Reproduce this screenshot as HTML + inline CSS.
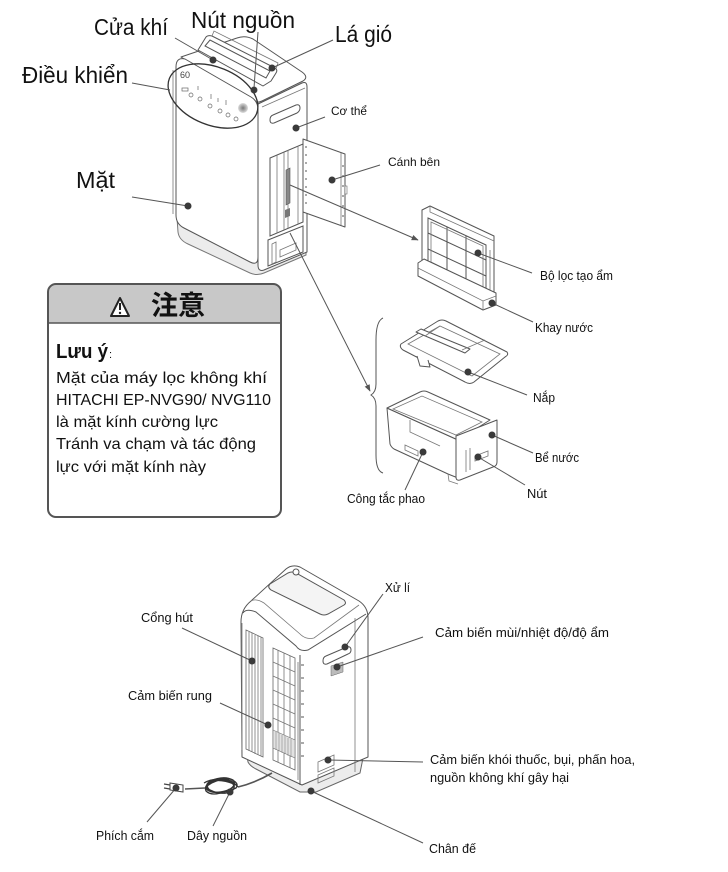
<!DOCTYPE html>
<html><head><meta charset="utf-8">
<style>
html,body{margin:0;padding:0;background:#fff;}
svg{display:block;}
text{font-family:"Liberation Sans","Noto Sans CJK SC",sans-serif;fill:#111;}
.ln{stroke:#555;stroke-width:1;fill:none;}
.lt{stroke:#777;stroke-width:0.8;fill:none;}
.u{stroke:#555;stroke-width:1;fill:#fff;stroke-linejoin:round;}
.ld{stroke:#555;stroke-width:1;fill:none;}
.d{fill:#3a3a3a;}
</style></head>
<body>
<svg width="728" height="872" viewBox="0 0 728 872" xmlns="http://www.w3.org/2000/svg">
<defs>
<marker id="ar" viewBox="0 0 10 10" refX="9" refY="5" markerWidth="7" markerHeight="7" orient="auto"><path d="M0,1 L10,5 L0,9 Z" fill="#555"/></marker>
<radialGradient id="rg"><stop offset="0" stop-color="#777"/><stop offset="1" stop-color="#ddd"/></radialGradient>
</defs>

<!-- ============ TOP UNIT ============ -->
<path d="M177,218 L178,232 Q179,240 188,244 L250,273 Q257,276 264,273 L306,255 L306,240" fill="#ececec" stroke="#777"/>
<path d="M258,104 L302,83 Q307,81 307,87 L307,252 L264,270 Q258,272 258,265 Z" class="u"/>
<path d="M181,57 L237,38 Q245,35 253,39 L302,72 Q309,77 303,81 L262,101 Q256,104 250,100 Z" class="u"/>
<path d="M176,67 Q176,57 185,59 L251,97 Q258,101 258,110 L258,257 Q258,266 250,262 L184,228 Q176,224 176,215 Z" class="u"/>
<path d="M262,107 L305,88" class="lt"/>
<path d="M173,70 L173,214" class="lt"/>
<!-- handle -->
<path d="M198,50 L206,37 Q208,35 212,36 L275,68 Q278,70 276,73 L271,81 L263,86 Z" class="u"/>
<path d="M205,46 L210,40 L270,71 L266,78 Z" class="ln"/>
<path d="M212,36 L214,31 L278,63 L276,69" class="lt"/>
<circle cx="254" cy="90" r="3" fill="#fff" stroke="#555"/>
<!-- control ellipse -->
<ellipse cx="213" cy="96" rx="47" ry="29" transform="rotate(22 213 96)" fill="none" stroke="#333" stroke-width="1.3"/>
<text x="180" y="78" font-size="9" style="fill:#444">60</text>
<g fill="none" stroke="#666" stroke-width="0.7">
<rect x="182" y="88" width="6" height="3"/><circle cx="191" cy="95" r="2"/><circle cx="200" cy="99" r="2"/>
<circle cx="210" cy="106" r="2"/><circle cx="220" cy="111" r="2"/><circle cx="228" cy="115" r="2"/><circle cx="236" cy="119" r="2"/>
<path d="M198,86 v4 M211,94 v5 M218,98 v4 M226,100 v5"/>
</g>
<circle cx="243" cy="108" r="5" fill="url(#rg)"/>
<!-- right side details -->
<path d="M273,115 L296,105 Q300,104 300,108 Q300,111 297,113 L274,123 Q270,124 270,120 Q270,116 273,115 Z" class="ln"/>
<path d="M270,158 L303,144 L303,222 L270,236 Z" fill="#fff" stroke="#555"/>
<path d="M277,155 L277,233 M284,152 L284,230 M288,150 L288,228 M298,146 L298,224" class="lt"/>
<path d="M286,170 L286,205 L290,203 L290,168 Z" fill="#888" stroke="#555" stroke-width="0.6"/>
<path d="M285,210 L290,208 L290,216 L285,218 Z" fill="#777"/>
<path d="M268,240 L303,226 L303,252 L268,266 Z" class="ln"/>
<path d="M272,244 L276,242 L276,262 L272,264 Z M280,250 L296,243 L296,250 L280,257 Z" class="lt"/>
<!-- door -->
<path d="M303,139 L345,154 L345,227 L303,212 Z" class="u"/>
<path d="M341,153 L341,225" class="lt"/>
<path d="M306,146 v2 M306,154 v2 M306,162 v2 M306,170 v2 M306,178 v2 M306,186 v2 M306,194 v2 M306,202 v2 M343,165 v2 M343,175 v2 M343,185 v2 M343,195 v2 M343,205 v2 M343,215 v2" stroke="#555" stroke-width="1"/>
<rect x="345" y="186" width="2" height="8" fill="#fff" stroke="#666" stroke-width="0.6"/>

<!-- leader lines top -->
<path class="ld" d="M175,38 L213,60"/><circle class="d" cx="213" cy="60" r="3.5"/>
<path class="ld" d="M258,32 L254,88"/><circle class="d" cx="254" cy="90" r="3"/>
<path class="ld" d="M333,40 L272,68"/><circle class="d" cx="272" cy="68" r="3.5"/>
<path class="ld" d="M132,83 L170,90"/>
<path class="ld" d="M132,197 L188,206"/><circle class="d" cx="188" cy="206" r="3.5"/>
<path class="ld" d="M325,117 L296,128"/><circle class="d" cx="296" cy="128" r="3.5"/>
<path class="ld" d="M380,165 L332,180"/><circle class="d" cx="332" cy="180" r="3.5"/>
<path class="ld" d="M290,185 L418,240" marker-end="url(#ar)"/>
<path class="ld" d="M290,233 L370,391" marker-end="url(#ar)"/>

<!-- labels top -->
<text x="94" y="35" font-size="23" textLength="74" lengthAdjust="spacingAndGlyphs">Cửa khí</text>
<text x="191" y="28" font-size="23" textLength="104" lengthAdjust="spacingAndGlyphs">Nút nguồn</text>
<text x="335" y="42" font-size="23" textLength="57" lengthAdjust="spacingAndGlyphs">Lá gió</text>
<text x="22" y="83" font-size="23" textLength="106" lengthAdjust="spacingAndGlyphs">Điều khiển</text>
<text x="76" y="188" font-size="23" textLength="39" lengthAdjust="spacingAndGlyphs">Mặt</text>
<text x="331" y="115" font-size="12" textLength="36" lengthAdjust="spacingAndGlyphs">Cơ thể</text>
<text x="388" y="166" font-size="12" textLength="52" lengthAdjust="spacingAndGlyphs">Cánh bên</text>

<!-- ============ FILTER ============ -->
<path d="M422,210 L430,206 L494,236 L494,296 L488,299 L422,270 Z" class="u"/>
<path d="M430,206 L430,212 L494,241" class="lt"/>
<path d="M428,218 L486,245 L486,291 L428,264 Z" fill="#fff" stroke="#555"/>
<path d="M447,227 L447,273 M466,236 L466,282 M428,233 L486,260 M428,249 L486,276" class="ln"/>
<path d="M431,222 L483,246 L483,288 L431,262 Z" class="lt"/>
<path d="M490,250 L490,290" class="lt"/>
<path d="M418,263 L424,259 L496,293 L496,305 L483,310 L418,276 Z" class="u"/>
<path d="M418,268 L483,301 L496,296 M483,301 L483,310" class="lt"/>

<!-- ============ LID ============ -->
<path d="M401,344 L438,321 Q442,319 446,321 L507,352 Q509,355 505,357 L474,382 Q470,385 465,382 L403,350 Q399,347 401,344 Z" class="u"/>
<path d="M408,344 L440,326 L500,354 L472,376 Z" class="lt"/>
<path d="M416,332 L421,329 L470,349 L465,353 Z" class="u"/>
<path d="M425,336 L440,326 M462,350 L485,340" class="lt"/>
<path d="M417,356 L420,366 L430,367 L428,360" class="u"/>

<!-- brace -->
<path d="M383,318 Q376,321 376,340 L376,384 Q376,392 371,395 Q376,398 376,406 L376,455 Q376,471 383,473" class="ln"/>

<!-- ============ TANK ============ -->
<path d="M387,408 L390,444 Q391,447 394,449 L448,474 L458,478 L458,440 Z" class="u"/>
<path d="M387,408 L420,392 Q424,390 428,392 L490,420 L458,440 Z" class="u"/>
<path d="M393,409 L422,396 L482,422 L456,435 Z" class="lt"/>
<path d="M410,420 L410,432 L440,446" class="lt"/>
<path d="M456,436 L497,420 L497,462 Q497,466 493,467 L460,480 Q456,481 456,477 Z" class="u"/>
<path d="M466,450 L466,472 M470,448 L470,470" class="lt"/>
<path d="M475,456 L488,451 L488,456 L475,461 Z" class="lt"/>
<path d="M405,445 L418,451 L418,456 L405,450 Z" class="lt"/>
<path d="M448,474 L449,481 L458,484" class="lt"/>

<!-- leader lines filter/tank -->
<path class="ld" d="M478,253 L532,273"/><circle class="d" cx="478" cy="253" r="3.5"/>
<path class="ld" d="M492,303 L533,322"/><circle class="d" cx="492" cy="303" r="3.5"/>
<path class="ld" d="M468,372 L527,395"/><circle class="d" cx="468" cy="372" r="3.5"/>
<path class="ld" d="M492,435 L533,453"/><circle class="d" cx="492" cy="435" r="3.5"/>
<path class="ld" d="M478,457 L525,485"/><circle class="d" cx="478" cy="457" r="3.5"/>
<path class="ld" d="M423,452 L405,490"/><circle class="d" cx="423" cy="452" r="3.5"/>

<text x="540" y="280" font-size="12.5" textLength="73" lengthAdjust="spacingAndGlyphs">Bộ lọc tạo ẩm</text>
<text x="535" y="332" font-size="12.5" textLength="58" lengthAdjust="spacingAndGlyphs">Khay nước</text>
<text x="533" y="402" font-size="12.5" textLength="22" lengthAdjust="spacingAndGlyphs">Nắp</text>
<text x="535" y="462" font-size="12.5" textLength="44" lengthAdjust="spacingAndGlyphs">Bể nước</text>
<text x="527" y="498" font-size="12.5" textLength="20" lengthAdjust="spacingAndGlyphs">Nút</text>
<text x="347" y="503" font-size="12.5" textLength="78" lengthAdjust="spacingAndGlyphs">Công tắc phao</text>

<!-- ============ CAUTION BOX ============ -->
<path d="M49,323 L49,291 Q49,285 55,285 L274,285 Q280,285 280,291 L280,323 Z" fill="#c8c8c8"/>
<rect x="48" y="284" width="233" height="233" rx="8" fill="none" stroke="#555" stroke-width="2"/>
<line x1="48" y1="323" x2="281" y2="323" stroke="#555" stroke-width="1.5"/>
<path d="M120,298 L111,316 L129,316 Z" fill="#fff" stroke="#222" stroke-width="2" stroke-linejoin="round"/>
<path d="M120,303 L120,310" stroke="#222" stroke-width="2"/>
<circle cx="120" cy="313" r="1.2" fill="#222"/>
<text x="151" y="315" font-size="27" font-weight="bold" style="font-family:'Noto Sans CJK JP','Noto Sans CJK SC',sans-serif">注意</text>

<text x="56" y="358" font-size="20" font-weight="bold" textLength="52" lengthAdjust="spacingAndGlyphs">Lưu ý</text>
<text x="109" y="358" font-size="11">:</text>
<text x="56" y="383" font-size="16" textLength="211" lengthAdjust="spacingAndGlyphs">Mặt của máy lọc không khí</text>
<text x="56" y="405" font-size="16" textLength="215" lengthAdjust="spacingAndGlyphs">HITACHI EP-NVG90/ NVG110</text>
<text x="56" y="427" font-size="16" textLength="162" lengthAdjust="spacingAndGlyphs">là mặt kính cường lực</text>
<text x="56" y="449" font-size="16" textLength="200" lengthAdjust="spacingAndGlyphs">Tránh va chạm và tác động</text>
<text x="56" y="472" font-size="16" textLength="150" lengthAdjust="spacingAndGlyphs">lực với mặt kính này</text>

<!-- ============ BOTTOM UNIT ============ -->
<path d="M246,750 L248,762 Q250,766 256,769 L300,792 L316,792 L360,773 L363,758 Z" fill="#ececec" stroke="#666"/>
<path d="M241,622 Q241,609 251,601 L286,569 Q292,564 300,567 L359,601 Q368,607 368,618 L368,757 L302,785 L242,757 Z" class="u"/>
<path d="M300,655 L300,785" class="ln"/>
<path d="M243,613 Q246,608 256,612 L296,646 Q300,652 308,650 L366,614" class="ln"/>
<path d="M251,601 Q256,598 264,603 L300,634 Q306,640 314,638 L359,605" class="lt"/>
<path d="M270,584 L288,573 Q292,571 296,573 L344,600 Q347,603 344,605 L328,614 Q324,616 320,614 L271,590 Q267,587 270,584 Z" fill="#f4f4f4" stroke="#555"/>
<circle cx="296" cy="572" r="3" fill="#fff" stroke="#555"/>
<path d="M242,623 L242,750 M298,662 L298,780 M355,618 L355,772" class="lt"/>
<!-- grille 1 -->
<path d="M246,630 L263,638 L263,757 L246,749 Z" fill="#fff" stroke="#666" stroke-width="0.8"/>
<path d="M249,632 L249,751 M252,633 L252,752 M255,635 L255,754 M258,636 L258,755 M261,637 L261,756" class="lt"/>
<!-- grille 2 -->
<path d="M273,648 L295,658 L295,770 L273,760 Z" fill="#fff" stroke="#666" stroke-width="0.8"/>
<path d="M278,650 L278,762 M284,653 L284,765 M290,656 L290,768 M273,662 L295,672 M273,676 L295,686 M273,690 L295,700 M273,704 L295,714 M273,718 L295,728" class="lt"/>
<path d="M273,730 L295,740 L295,758 L273,748 Z" fill="#e2e2e2" stroke="#777" stroke-width="0.6"/>
<path d="M276,732 L276,750 M279,733 L279,751 M282,735 L282,753 M285,736 L285,754 M288,738 L288,756 M291,739 L291,757" stroke="#777" stroke-width="0.5"/>
<path d="M301,665 h3 M301,678 h3 M301,691 h3 M301,704 h3 M301,717 h3 M301,730 h3 M301,743 h3 M301,756 h3" stroke="#555"/>
<!-- right side details -->
<path d="M326,656 L347,647 Q351,646 351,650 Q351,653 348,654 L327,664 Q323,665 323,661 Q323,657 326,656 Z" class="ln"/>
<path d="M331,666 L343,662 L343,672 L331,676 Z" fill="#bbb" stroke="#666" stroke-width="0.5"/>
<path d="M318,762 L334,755 L334,765 L318,772 Z M318,775 L334,768 L334,776 L318,783 Z" class="lt"/>

<!-- cord -->
<path d="M272,773 Q255,783 238,787" stroke="#555" stroke-width="1.6" fill="none"/>
<g stroke="#333" stroke-width="1.3" fill="none">
<path d="M238,787 Q228,776 216,780 Q203,784 206,791 Q212,797 226,791 Q238,787 233,780 Q224,775 210,781 Q202,787 212,792 Q224,794 236,788 Q240,783 230,779 Q218,778 207,786"/>
<path d="M204,783 Q214,777 228,781 Q238,785 232,791 Q222,796 210,790 Q204,786 212,781 Q222,779 234,784"/>
<ellipse cx="220" cy="786" rx="14" ry="6" transform="rotate(-8 220 786)"/>
</g>
<path d="M205,788 L185,789" stroke="#555" stroke-width="1.4" fill="none"/>
<path d="M170,783 L183,785 L183,792 L170,790 Z" fill="#fff" stroke="#444"/>
<path d="M170,785 L164,784 M170,789 L164,788" stroke="#444" stroke-width="1.2"/>

<!-- leader lines bottom -->
<path class="ld" d="M383,594 L345,647"/><circle class="d" cx="345" cy="647" r="3.5"/>
<path class="ld" d="M423,637 L337,667"/><circle class="d" cx="337" cy="667" r="3.5"/>
<path class="ld" d="M423,762 L328,760"/><circle class="d" cx="328" cy="760" r="3.5"/>
<path class="ld" d="M423,843 L311,791"/><circle class="d" cx="311" cy="791" r="3.5"/>
<path class="ld" d="M182,628 L252,661"/><circle class="d" cx="252" cy="661" r="3.5"/>
<path class="ld" d="M220,703 L268,725"/><circle class="d" cx="268" cy="725" r="3.5"/>
<path class="ld" d="M147,822 L176,788"/><circle class="d" cx="176" cy="788" r="3.5"/>
<path class="ld" d="M213,826 L230,792"/><circle class="d" cx="230" cy="792" r="3.5"/>

<text x="385" y="592" font-size="13" textLength="25" lengthAdjust="spacingAndGlyphs">Xử lí</text>
<text x="435" y="637" font-size="13" textLength="174" lengthAdjust="spacingAndGlyphs">Cảm biến mùi/nhiệt độ/độ ẩm</text>
<text x="430" y="764" font-size="13" textLength="205" lengthAdjust="spacingAndGlyphs">Cảm biến khói thuốc, bụi, phấn hoa,</text>
<text x="430" y="782" font-size="13" textLength="139" lengthAdjust="spacingAndGlyphs">nguồn không khí gây hại</text>
<text x="429" y="853" font-size="13" textLength="47" lengthAdjust="spacingAndGlyphs">Chân đế</text>
<text x="141" y="622" font-size="13" textLength="52" lengthAdjust="spacingAndGlyphs">Cổng hút</text>
<text x="128" y="700" font-size="13" textLength="84" lengthAdjust="spacingAndGlyphs">Cảm biến rung</text>
<text x="96" y="840" font-size="13" textLength="58" lengthAdjust="spacingAndGlyphs">Phích cắm</text>
<text x="187" y="840" font-size="13" textLength="60" lengthAdjust="spacingAndGlyphs">Dây nguồn</text>
</svg>
</body></html>
